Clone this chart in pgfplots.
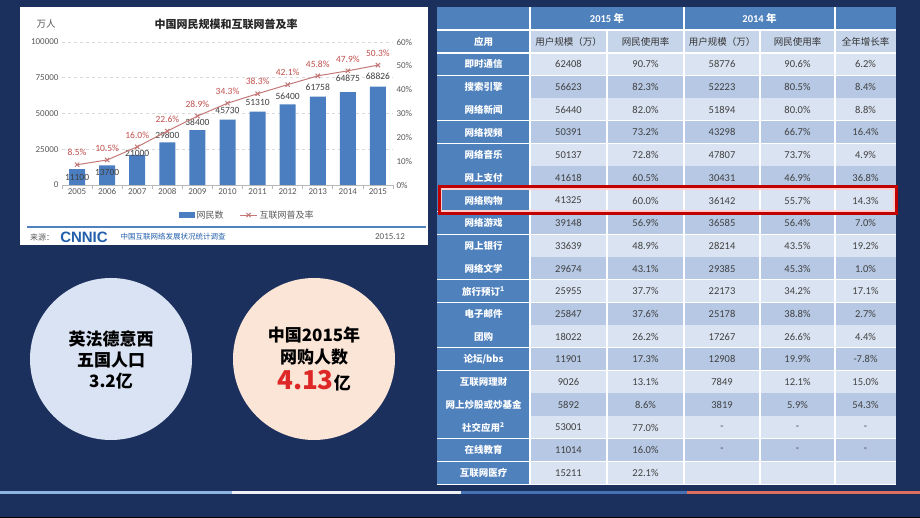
\documentclass[border=0pt]{standalone}
\usepackage{fontspec}
\setmainfont{Carlito}
\newfontfamily\cjk{Noto Sans CJK SC}
\newfontfamily\logo{Liberation Sans}
\usepackage{pgfplots}
\usepackage{pgfplotstable}
\pgfplotsset{compat=1.18}
\pgfplotsset{/pgf/number format/assume math mode=true}

\definecolor{bgnavy}{RGB}{27,48,93}
\definecolor{barblue}{RGB}{74,126,193}
\definecolor{linered}{RGB}{196,120,120}
\definecolor{lblred}{RGB}{192,80,77}
\definecolor{tickgray}{RGB}{89,89,89}
\definecolor{numgray}{RGB}{64,64,64}
\definecolor{tblue}{RGB}{79,129,189}
\definecolor{tlight}{RGB}{218,227,241}
\definecolor{tmid}{RGB}{182,200,228}
\definecolor{thead}{RGB}{199,213,235}
\definecolor{circblue}{RGB}{218,227,243}
\definecolor{circpeach}{RGB}{251,229,214}
\definecolor{hlred}{RGB}{192,0,0}
\definecolor{srcblue}{RGB}{35,95,170}
\definecolor{bigred}{RGB}{222,40,40}
\definecolor{stripeA}{RGB}{141,180,226}
\definecolor{stripeB}{RGB}{238,240,246}
\definecolor{stripeC}{RGB}{70,114,180}
\definecolor{stripeD}{RGB}{222,110,95}
\definecolor{baseline}{RGB}{70,100,150}

% year, users (10k), label offset, penetration rate (%)
\pgfplotstableread{
yr   users dy   rate
2005 11100 -8   8.5
2006 13700 -7   10.5
2007 21000 2    16.0
2008 29800 7    22.6
2009 38400 8    28.9
2010 45730 9.5  34.3
2011 51310 9.5  38.3
2012 56400 8    42.1
2013 61758 9    45.8
2014 64875 14   47.9
2015 68826 10   50.3
}\netdata

\begin{document}
\begin{tikzpicture}[x=1pt,y=1pt]
\fill[bgnavy] (0,0) rectangle (920,518);

% ---- chart panel
\fill[white] (20,511) rectangle (428,273);
\node[font=\cjk\fontsize{9.5}{10}\selectfont, text=tickgray] at (46,494) {万人};
\node[font=\cjk\bfseries\fontsize{11}{12}\selectfont, text=black!85] at (226,494) {中国网民规模和互联网普及率};

\begin{axis}[
    at={(62pt,333pt)}, anchor=south west,
    scale only axis, width=331pt, height=143pt,
    xmin=2004.5, xmax=2015.5, ymin=0, ymax=100000,
    axis x line*=bottom, axis y line*=left,
    y axis line style={draw=none},
    x axis line style={-, draw=gray!55, line width=0.8pt},
    xtick={2005,...,2015}, ytick={0,25000,50000,75000,100000},
    scaled y ticks=false,
    /pgf/number format/1000 sep={},
    yticklabel={\pgfmathprintnumber[fixed,precision=0]{\tick}},
    major tick length=0pt,
    extra x ticks={2004.5,2005.5,...,2015.5}, extra x tick labels={},
    extra x tick style={grid=none, major tick length=4pt, tick align=outside,
        tick style={draw=gray!55, line width=0.8pt}},
    ymajorgrids, grid style={dashed, draw=gray!30, line width=0.6pt},
    tick label style={font=\fontsize{9}{10}\selectfont, text=tickgray},
    ybar, bar width=16pt,
]
\addplot[fill=barblue, draw=none,
    nodes near coords={\pgfmathprintnumber[fixed,precision=0,1000 sep={}]{\pgfplotspointmeta}},
    nodes near coords align={center},
    visualization depends on={\thisrow{dy} \as \dy},
    every node near coord/.append style={anchor=center, yshift=\dy,
        font=\fontsize{9.5}{10}\selectfont, text=numgray, inner sep=0pt}]
    table[x=yr, y=users] {\netdata};
\end{axis}

\begin{axis}[
    at={(62pt,333pt)}, anchor=south west,
    scale only axis, width=331pt, height=143pt,
    xmin=2004.5, xmax=2015.5, ymin=0, ymax=60,
    axis x line=none, axis y line*=right,
    y axis line style={draw=none},
    ytick={0,10,...,60}, major tick length=0pt,
    yticklabel={\pgfmathprintnumber{\tick}\%},
    tick label style={font=\fontsize{9}{10}\selectfont, text=tickgray},
    legend style={at={(0.56,-0.21)}, anchor=center, draw=none, fill=none,
        legend columns=2, font=\cjk\fontsize{9}{10}\selectfont, text=tickgray,
        /tikz/every even column/.append style={column sep=14pt}},
]
\addlegendimage{legend image code/.code={\fill[barblue] (0pt,-2.5pt) rectangle (15pt,2.5pt);}}
\addlegendentry{网民数}
\addplot[linered, line width=1pt, mark=x, mark size=3pt,
    mark options={line width=1pt},
    nodes near coords={\pgfmathprintnumber[fixed,fixed zerofill,precision=1]{\pgfplotspointmeta}\%},
    every node near coord/.append style={anchor=center, yshift=12pt,
        font=\fontsize{9.5}{10}\selectfont, text=lblred, inner sep=0pt}]
    table[x=yr, y=rate] {\netdata};
\addlegendentry{互联网普及率}
\end{axis}

% footer of the chart panel
\draw[tblue, line width=1.2pt] (27,291) -- (426,291);
\node[font=\cjk\fontsize{8}{9}\selectfont, text=tickgray] at (42,281) {来源：};
\node[font=\logo\bfseries\fontsize{15}{15}\selectfont, text=srcblue] at (84,281) {CNNIC};
\node[font=\cjk\fontsize{7.5}{8}\selectfont, text=srcblue] at (173,281) {中国互联网络发展状况统计调查};
\node[font=\fontsize{9}{10}\selectfont, text=tickgray] at (390,281) {2015.12};

% ---- table
\fill[tblue] (437,511) rectangle (896,488);
\fill[thead] (530,488) rectangle (896,465);
\fill[tblue] (437,488) rectangle (530,465);
\foreach \n/\a/\b/\c/\d/\e [count=\i] in {
    即时通信/62408/90.7\%/58776/90.6\%/6.2\%,
    搜索引擎/56623/82.3\%/52223/80.5\%/8.4\%,
    网络新闻/56440/82.0\%/51894/80.0\%/8.8\%,
    网络视频/50391/73.2\%/43298/66.7\%/16.4\%,
    网络音乐/50137/72.8\%/47807/73.7\%/4.9\%,
    网上支付/41618/60.5\%/30431/46.9\%/36.8\%,
    网络购物/41325/60.0\%/36142/55.7\%/14.3\%,
    网络游戏/39148/56.9\%/36585/56.4\%/7.0\%,
    网上银行/33639/48.9\%/28214/43.5\%/19.2\%,
    网络文学/29674/43.1\%/29385/45.3\%/1.0\%,
    旅行预订\textsuperscript{1}/25955/37.7\%/22173/34.2\%/17.1\%,
    电子邮件/25847/37.6\%/25178/38.8\%/2.7\%,
    团购/18022/26.2\%/17267/26.6\%/4.4\%,
    {论坛/bbs}/11901/17.3\%/12908/19.9\%/-7.8\%,
    互联网理财/9026/13.1\%/7849/12.1\%/15.0\%,
    网上炒股或炒基金/5892/8.6\%/3819/5.9\%/54.3\%,
    社交应用\textsuperscript{2}/53001/77.0\%/-/-/-,
    在线教育/11014/16.0\%/-/-/-,
    互联网医疗/15211/22.1\%/{}/{}/{}}{
  \pgfmathsetmacro\yt{465-(\i-1)*22.7}
  \pgfmathsetmacro\yb{\yt-22.7}
  \pgfmathsetmacro\ym{\yt-11.35}
  \ifodd\i \def\rc{tlight}\else\def\rc{tmid}\fi
  \fill[\rc] (530,\yt) rectangle (896,\yb);
  \fill[tblue] (437,\yt) rectangle (530,\yb);
  \node[font=\cjk\bfseries\fontsize{9.5}{10}\selectfont, text=white] at (483.5,\ym) {\n};
  \begin{scope}[every node/.style={font=\fontsize{10.5}{11}\selectfont, text=numgray}]
    \node at (568.5,\ym) {\a};
    \node at (645.5,\ym) {\b};
    \node at (722,\ym) {\c};
    \node at (797.5,\ym) {\d};
    \node at (865.5,\ym) {\e};
  \end{scope}
  \draw[white, line width=1.2pt] (437,\yb) -- (896,\yb);
}
\draw[white, line width=1.2pt] (437,488) -- (896,488);
\draw[white, line width=1.2pt] (437,465) -- (896,465);
\foreach \xx in {530,684,835} \draw[white, line width=1.2pt] (\xx,511) -- (\xx,33.7);
\foreach \xx in {607,760} \draw[white, line width=1.2pt] (\xx,488) -- (\xx,33.7);
% headers
\node[font=\bfseries\fontsize{10.5}{11}\selectfont, text=white] at (607,499.5) {2015 {\cjk 年}};
\node[font=\bfseries\fontsize{10.5}{11}\selectfont, text=white] at (759.5,499.5) {2014 {\cjk 年}};
\begin{scope}[every node/.style={font=\cjk\fontsize{9.5}{10}\selectfont, text=black!80}]
  \node[text=white, font=\cjk\bfseries\fontsize{9.5}{10}\selectfont] at (483.5,476.5) {应用};
  \node at (568.5,476.5) {用户规模（万）};
  \node at (645.5,476.5) {网民使用率};
  \node at (722,476.5) {用户规模（万）};
  \node at (797.5,476.5) {网民使用率};
  \node at (865.5,476.5) {全年增长率};
\end{scope}
% highlight on online shopping
\draw[pink!80, line width=1.5pt] (441,329) rectangle (894,307);
\draw[hlred, line width=3pt] (439,331.5) rectangle (896.5,304.5);

% ---- circles
\fill[circblue] (111,159) circle (81);
\fill[circpeach] (314,159) circle (81);
\begin{scope}[every node/.style={font=\cjk\bfseries\fontsize{17}{18}\selectfont, text=black}]
  \node at (111,179) {英法德意西};
  \node at (111,158) {五国人口};
  \node at (111,137) {3.2亿};
  \node at (314,183) {中国2015年};
  \node at (314,161) {网购人数};
  \node at (314,137) {{\fontsize{26}{26}\selectfont\color{bigred}4.13}亿};
\end{scope}

% ---- bottom stripe
\fill[stripeA] (0,23.5) rectangle (232,26.5);
\fill[stripeB] (232,23.5) rectangle (461,26.5);
\fill[stripeC] (461,23.5) rectangle (687,26.5);
\fill[stripeD] (687,23.5) rectangle (920,26.5);
\fill[baseline] (0,0) rectangle (920,1.2);
\end{tikzpicture}
\end{document}
